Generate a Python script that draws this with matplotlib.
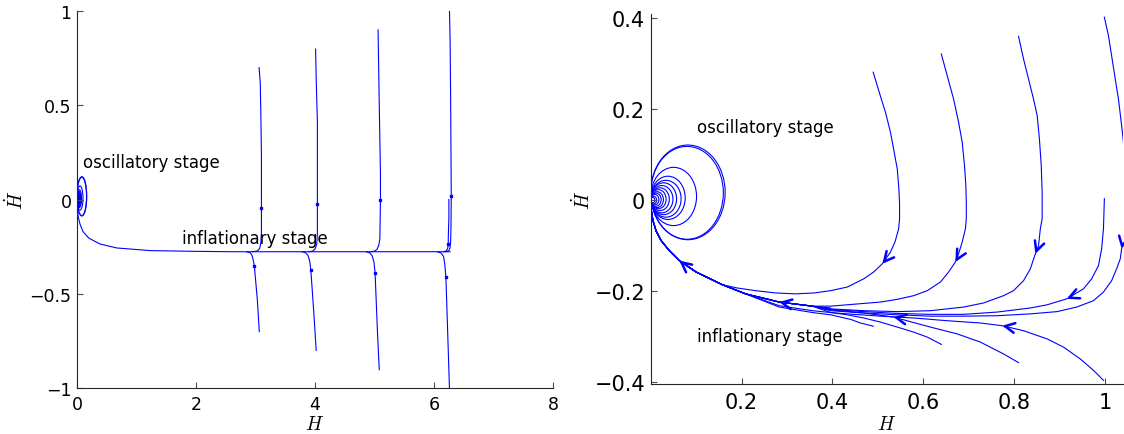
import matplotlib
matplotlib.use('Agg')
import matplotlib.pyplot as plt
import numpy as np
from matplotlib.patches import Ellipse

plt.rcParams['mathtext.fontset'] = 'cm'
plt.rcParams['font.family'] = ['DejaVu Sans']

# oscillatory loops near the origin: H extent, vertical centre, Hdot extent
loop_width = [0.164, 0.160, 0.101, 0.076, 0.067, 0.057, 0.049, 0.041, 0.034, 0.028, 0.023, 0.018, 0.013, 0.009]
loop_center = [0.017, 0.016, 0.008, 0.005, 0.003, 0.003, 0.002, 0.002, 0.002, 0.001, 0.001, 0.001, 0.0, 0.0]
loop_height = [0.208, 0.204, 0.128, 0.095, 0.081, 0.070, 0.060, 0.050, 0.042, 0.035, 0.029, 0.023, 0.017, 0.012]

# ---- left panel: full range ----
attr_H = [6.27, 5.0, 4.0, 3.0, 2.63, 2.0, 1.23, 0.667, 0.387, 0.2, 0.1, 0.05, 0.02, 0.005, 0.0]
attr_Hd = [-0.277, -0.277, -0.277, -0.277, -0.277, -0.275, -0.271, -0.257, -0.236, -0.205, -0.17, -0.13, -0.09, -0.045, 0.0]

a1_H = [3.06, 3.08, 3.09, 3.10, 3.10, 3.10, 3.09, 3.07, 3.03, 2.95]
a1_Hd = [0.70, 0.62, 0.45, 0.23, -0.045, -0.17, -0.23, -0.26, -0.273, -0.277]
a2_H = [4.01, 4.02, 4.04, 4.04, 4.04, 4.03, 4.0, 3.96, 3.90]
a2_Hd = [0.798, 0.64, 0.41, -0.024, -0.18, -0.235, -0.263, -0.274, -0.277]
a3_H = [5.06, 5.08, 5.10, 5.10, 5.09, 5.07, 5.04, 5.0, 4.93]
a3_Hd = [0.90, 0.50, 0.135, -0.003, -0.21, -0.245, -0.265, -0.274, -0.277]
a4_H = [6.26, 6.27, 6.28, 6.29, 6.285, 6.28, 6.27, 6.25, 6.2]
a4_Hd = [1.0, 0.855, 0.516, 0.017, -0.15, -0.22, -0.255, -0.272, -0.277]
a5_H = [6.25, 6.25, 6.24, 6.24, 6.23, 6.21, 6.16]
a5_Hd = [0.0, -0.1, -0.2, -0.236, -0.258, -0.272, -0.277]
b1_H = [3.064, 3.03, 2.98, 2.96, 2.94, 2.91, 2.85]
b1_Hd = [-0.701, -0.528, -0.351, -0.318, -0.295, -0.282, -0.277]
b2_H = [4.02, 3.98, 3.93, 3.91, 3.88, 3.84, 3.78]
b2_Hd = [-0.80, -0.60, -0.374, -0.325, -0.295, -0.282, -0.277]
b3_H = [5.08, 5.05, 5.01, 4.99, 4.96, 4.92, 4.86]
b3_Hd = [-0.903, -0.705, -0.39, -0.33, -0.298, -0.283, -0.277]
b4_H = [6.26, 6.23, 6.20, 6.18, 6.16, 6.12, 6.06]
b4_Hd = [-1.005, -0.705, -0.413, -0.34, -0.302, -0.284, -0.277]

left_curves = [(a1_H, a1_Hd, 4), (a2_H, a2_Hd, 3), (a3_H, a3_Hd, 3), (a4_H, a4_Hd, 3),
               (a5_H, a5_Hd, 3), (b1_H, b1_Hd, 2), (b2_H, b2_Hd, 2), (b3_H, b3_Hd, 2),
               (b4_H, b4_Hd, 2)]

# ---- right panel: zoom near the origin ----
tail_H = [0.396, 0.356, 0.283, 0.209, 0.158, 0.1, 0.063, 0.041, 0.023, 0.012, 0.005, 0.001, 0.0]
tail_Hd = [-0.237, -0.233, -0.224, -0.206, -0.186, -0.158, -0.133, -0.111, -0.089, -0.068, -0.045, -0.02, 0.0]
tail_arrows = [2, 6]

r1_H = [0.490, 0.506, 0.517, 0.528, 0.535, 0.543, 0.546, 0.548, 0.548, 0.546, 0.538, 0.528, 0.510,
        0.491, 0.469, 0.433, 0.396, 0.36, 0.319, 0.275, 0.231, 0.19]
r1_Hd = [0.281, 0.228, 0.193, 0.149, 0.112, 0.068, 0.032, -0.005, -0.041, -0.063, -0.092, -0.114, -0.140,
         -0.158, -0.173, -0.191, -0.199, -0.204, -0.206, -0.204, -0.199, -0.193]
r2_H = [0.640, 0.653, 0.667, 0.678, 0.686, 0.691, 0.694, 0.695, 0.695, 0.693, 0.686, 0.678, 0.671,
        0.656, 0.638, 0.609, 0.579, 0.543, 0.506, 0.433, 0.396]
r2_Hd = [0.321, 0.273, 0.222, 0.171, 0.127, 0.076, 0.032, -0.005, -0.041, -0.063, -0.092, -0.118, -0.136,
         -0.158, -0.180, -0.199, -0.210, -0.218, -0.224, -0.230, -0.233]
r3_H = [0.810, 0.821, 0.832, 0.843, 0.851, 0.856, 0.860, 0.862, 0.862, 0.858, 0.854, 0.847, 0.836,
        0.821, 0.799, 0.777, 0.733, 0.689, 0.616, 0.543, 0.469, 0.396]
r3_Hd = [0.360, 0.310, 0.266, 0.222, 0.186, 0.134, 0.076, 0.017, -0.041, -0.063, -0.100, -0.118, -0.151,
         -0.177, -0.199, -0.210, -0.226, -0.235, -0.243, -0.245, -0.243, -0.239]
r4_H = [0.999, 1.008, 1.015, 1.023, 1.030, 1.037, 1.041, 1.05, 1.052, 1.047, 1.040, 1.037, 1.034,
        1.026, 1.015, 0.997, 0.975, 0.938, 0.895, 0.836, 0.763, 0.689, 0.616, 0.543, 0.469, 0.396]
r4_Hd = [0.402, 0.361, 0.317, 0.266, 0.222, 0.164, 0.127, 0.05, -0.03, -0.08, -0.096, -0.107, -0.129,
         -0.151, -0.177, -0.202, -0.221, -0.235, -0.245, -0.250, -0.254, -0.255, -0.255, -0.252, -0.248, -0.243]
r5_H = [0.999, 0.998, 0.997, 0.993, 0.986, 0.971, 0.953, 0.916, 0.873, 0.836, 0.763, 0.689, 0.616,
        0.543, 0.469, 0.396]
r5_Hd = [0.003, -0.03, -0.063, -0.107, -0.144, -0.173, -0.195, -0.217, -0.230, -0.237, -0.246, -0.251, -0.251,
         -0.249, -0.245, -0.240]
l1_H = [0.997, 0.975, 0.946, 0.909, 0.873, 0.821, 0.774, 0.726, 0.653, 0.579, 0.506, 0.433, 0.396]
l1_Hd = [-0.396, -0.374, -0.349, -0.323, -0.305, -0.287, -0.276, -0.270, -0.265, -0.259, -0.255, -0.250, -0.247]
l2_H = [0.81, 0.777, 0.726, 0.675, 0.616, 0.575, 0.535, 0.469, 0.396]
l2_Hd = [-0.357, -0.338, -0.312, -0.294, -0.279, -0.268, -0.257, -0.248, -0.241]
l3_H = [0.64, 0.609, 0.579, 0.543, 0.506, 0.469, 0.433, 0.396, 0.356, 0.283]
l3_Hd = [-0.317, -0.301, -0.290, -0.279, -0.268, -0.259, -0.252, -0.247, -0.243, -0.232]
l4_H = [0.49, 0.462, 0.44, 0.396, 0.356, 0.283]
l4_Hd = [-0.277, -0.270, -0.262, -0.252, -0.247, -0.235]

# (H, Hdot, arrow index or None, where the curve joins the common tail)
right_curves = [(r1_H, r1_Hd, 12, 4), (r2_H, r2_Hd, 12, 1), (r3_H, r3_Hd, 11, 1),
                (r4_H, r4_Hd, 11, 1), (r5_H, r5_Hd, 7, 1), (l1_H, l1_Hd, 6, 1),
                (l2_H, l2_Hd, 6, 1), (l3_H, l3_Hd, None, 3), (l4_H, l4_Hd, None, 3)]

blue = (0, 0, 1)
lw = 0.8


def draw_loops(ax):
    for w, c, h in zip(loop_width, loop_center, loop_height):
        ax.add_patch(Ellipse((w / 2, c), w, h, fill=False, ec=blue, lw=lw))


def draw_arrow(ax, h, hd, i):
    j0, j1 = max(i - 1, 0), min(i + 1, len(h) - 1)
    p0 = ax.transData.transform((h[j0], hd[j0]))
    p1 = ax.transData.transform((h[j1], hd[j1]))
    d = (p1 - p0) / np.hypot(*(p1 - p0))
    ax.annotate('', xy=(h[i], hd[i]), xytext=(-d[0] * 5, -d[1] * 5), textcoords='offset pixels',
                arrowprops=dict(arrowstyle='->,head_length=0.7,head_width=0.35', color=blue,
                                lw=1.8, shrinkA=0, shrinkB=0))


def style(ax, fs):
    for s in ['top', 'right']:
        ax.spines[s].set_visible(False)
    for s in ['left', 'bottom']:
        ax.spines[s].set_color('0.15')
    ax.tick_params(direction='in', length=4, width=0.8, color='0.3', labelsize=fs)


fig = plt.figure(figsize=(11.24, 4.35), dpi=100)
ax1 = fig.add_axes([0.0685, 0.1057, 0.4235, 0.8667])
ax2 = fig.add_axes([0.5789, 0.115, 0.4202, 0.8506])

# left
ax1.set_xlim(0, 8)
ax1.set_ylim(-1, 1)
draw_loops(ax1)
ax1.plot(attr_H, attr_Hd, color=blue, lw=lw)
for h, hd, m in left_curves:
    ax1.plot(h, hd, color=blue, lw=lw, marker='s', ms=2, markevery=[m])
ax1.set_xticks([0, 2, 4, 6, 8])
ax1.set_yticks([-1, -0.5, 0, 0.5, 1])
ax1.set_yticklabels(['\u22121', '\u22120.5', '0', '0.5', '1'])
style(ax1, 12.5)
ax1.tick_params(axis='x', pad=5)
ax1.tick_params(axis='y', pad=4)
ax1.text(0.1, 0.2, 'oscillatory stage', fontsize=12, va='center')
ax1.text(1.765, -0.204, 'inflationary stage', fontsize=12, va='center')
ax1.set_xlabel('$H$', fontsize=14, va='center')
ax1.set_ylabel('$\\dot{H}$', fontsize=14)
ax1.xaxis.set_label_coords(0.5, -0.095)
ax1.yaxis.set_label_coords(-0.105, 0.5)

# right
ax2.set_xlim(0, 1.04)
ax2.set_ylim(-0.404, 0.409)
draw_loops(ax2)
ax2.plot(tail_H, tail_Hd, color=blue, lw=lw)
for h, hd, a, j in right_curves:
    ax2.plot(list(h) + tail_H[j:], list(hd) + tail_Hd[j:], color=blue, lw=lw)
for h, hd, a, j in right_curves:
    if a is not None:
        draw_arrow(ax2, h, hd, a)
for a in tail_arrows:
    draw_arrow(ax2, tail_H, tail_Hd, a)
ax2.set_xticks([0.2, 0.4, 0.6, 0.8, 1.0])
ax2.set_xticklabels(['0.2', '0.4', '0.6', '0.8', '1'])
ax2.set_yticks([-0.4, -0.2, 0, 0.2, 0.4])
ax2.set_yticklabels(['\u22120.4', '\u22120.2', '0', '0.2', '0.4'])
style(ax2, 15)
ax2.tick_params(axis='x', pad=6)
ax2.tick_params(axis='y', pad=4)
ax2.text(0.101, 0.16, 'oscillatory stage', fontsize=12, va='center')
ax2.text(0.102, -0.298, 'inflationary stage', fontsize=12, va='center')
ax2.set_xlabel('$H$', fontsize=14, va='center')
ax2.set_ylabel('$\\dot{H}$', fontsize=14)
ax2.xaxis.set_label_coords(0.5, -0.106)
ax2.yaxis.set_label_coords(-0.12, 0.5)

fig.savefig('out.png', dpi=100)
